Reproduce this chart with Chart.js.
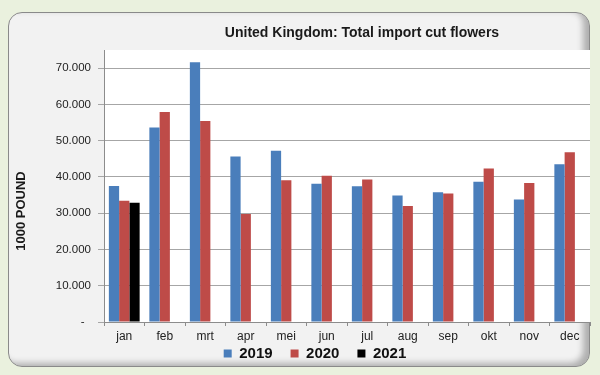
<!DOCTYPE html>
<html>
<head>
<meta charset="utf-8">
<script src="https://cdn.jsdelivr.net/npm/chart.js@4"></script>
<style>
    html, body { margin: 0; padding: 0; }
    body { width: 600px; height: 375px; background: #eaf1de; position: relative; overflow: hidden; }
    #panel {
        position: absolute; left: 8px; top: 12px; width: 580px; height: 353px;
        background: #f2f2f2; border: 1px solid #8a8a8a; border-radius: 14px;
        box-shadow: inset -6px -3px 6px rgba(0, 0, 0, 0.28);
    }
    #wrap { position: absolute; left: 0; top: 0; width: 600px; height: 375px; }
</style>
</head>
<body>
<div id="panel"></div>
<div id="wrap"><canvas id="importChart"></canvas></div>
<script>
const months = ['jan', 'feb', 'mrt', 'apr', 'mei', 'jun', 'jul', 'aug', 'sep', 'okt', 'nov', 'dec'];
const import2019 = [37500, 53600, 71600, 45600, 47200, 38100, 37400, 34900, 35800, 38700, 33800, 43500];
const import2020 = [33400, 57900, 55400, 29800, 39100, 40300, 39300, 32000, 35400, 42300, 38300, 46800];
const import2021 = [32900, null, null, null, null, null, null, null, null, null, null, null];
const yTicks = [0, 10000, 20000, 30000, 40000, 50000, 60000, 70000];

const FONT = 'Arial, "Liberation Sans", sans-serif';

function formatNl(v) {
    if (v === 0) return '-  ';
    return String(v).replace(/\B(?=(\d{3})+(?!\d))/g, '.');
}

// white plot area, chart title, y-axis title, and legend placement
const decorations = {
    id: 'decorations',
    beforeLayout(chart) {
        const lg = chart.legend;
        if (lg && !lg._fixedFit) {
            const origFit = lg.fit;
            lg.fit = function () {
                origFit.call(this);
                this.height = 31;
            };
            lg._fixedFit = true;
        }
    },
    afterLayout(chart) {
        const lg = chart.legend;
        if (lg) {
            lg.top -= 16;
            lg.bottom -= 16;
        }
    },
    beforeDraw(chart) {
        const { ctx, chartArea } = chart;
        ctx.save();
        ctx.fillStyle = '#ffffff';
        ctx.fillRect(chartArea.left, chartArea.top, chartArea.right - chartArea.left, chartArea.bottom - chartArea.top);
        ctx.restore();
    },
    afterDraw(chart) {
        const { ctx } = chart;
        ctx.save();
        ctx.fillStyle = '#1a1a1a';
        ctx.font = 'bold 14px ' + FONT;
        ctx.textAlign = 'center';
        ctx.textBaseline = 'middle';
        ctx.fillText('United Kingdom: Total import cut flowers', 362, 33);

        ctx.translate(21, 211);
        ctx.rotate(-Math.PI / 2);
        ctx.font = 'bold 13px ' + FONT;
        ctx.fillText('1000 POUND', 0, 0);
        ctx.restore();
    }
};

const ctx = document.getElementById('importChart').getContext('2d');

new Chart(ctx, {
    type: 'bar',
    data: {
        labels: months,
        datasets: [
            { label: '2019', data: import2019, backgroundColor: '#4a7ebb' },
            { label: '2020', data: import2020, backgroundColor: '#be4b48' },
            { label: '2021', data: import2021, backgroundColor: '#000000' }
        ]
    },
    options: {
        responsive: true,
        maintainAspectRatio: false,
        animation: false,
        categoryPercentage: 0.76,
        barPercentage: 1,
        layout: {
            padding: { left: 40, right: 10, top: 50, bottom: 0 }
        },
        scales: {
            x: {
                grid: {
                    drawOnChartArea: false,
                    drawTicks: true,
                    tickLength: 4,
                    offset: true,
                    color: '#8c8c8c'
                },
                border: { color: '#8c8c8c' },
                ticks: {
                    color: '#222',
                    padding: 3,
                    font: { family: FONT, size: 12 }
                },
                afterFit(scale) { scale.height = 22; }
            },
            y: {
                min: 0,
                max: 75000,
                afterBuildTicks(scale) {
                    scale.ticks = yTicks.map(v => ({ value: v }));
                },
                grid: {
                    color: '#a6a6a6',
                    tickLength: 6
                },
                border: { color: '#8c8c8c' },
                ticks: {
                    color: '#222',
                    padding: 7,
                    font: { family: FONT, size: 11.5 },
                    callback: v => formatNl(v)
                },
                afterFit(scale) { scale.width = 64; }
            }
        },
        plugins: {
            legend: {
                position: 'bottom',
                labels: {
                    boxWidth: 8,
                    boxHeight: 8,
                    padding: 18,
                    color: '#111',
                    font: { family: FONT, size: 15, weight: 'bold' }
                }
            },
            tooltip: { enabled: false },
            title: { display: false }
        }
    },
    plugins: [decorations]
});
</script>
</body>
</html>
